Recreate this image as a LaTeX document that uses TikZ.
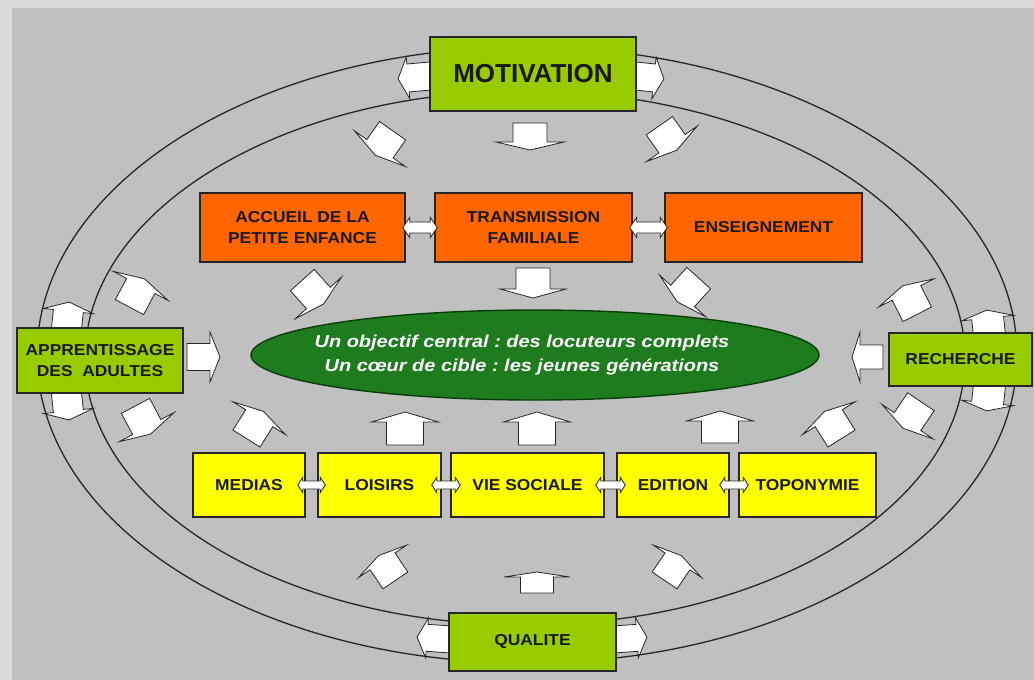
\documentclass[tikz,border=0pt]{standalone}
\usepackage{fontspec}
\setmainfont{Liberation Sans}
\newfontfamily\labfont[FakeStretch=1.1]{Liberation Sans}
\newfontfamily\ctrfont[FakeStretch=1.16]{Liberation Sans}
\usetikzlibrary{shapes.geometric,calc}
\definecolor{bgout}{HTML}{D9D9D9}
\definecolor{bgin}{HTML}{C0C0C0}
\definecolor{lime}{HTML}{99CC00}
\definecolor{orng}{HTML}{FF6600}
\definecolor{yel}{HTML}{FFFF00}
\definecolor{dgreen}{HTML}{1E7B1E}
\definecolor{dgreenline}{HTML}{0B3D0B}
% block arrow: x, y, angle, length, body half width, head half width, head length
\newcommand\blockarr[7]{\begin{scope}[shift={(#1,#2)},rotate=#3]
\draw[arr] ({-#4/2},{-#5}) -- ({#4/2-#7},{-#5}) -- ({#4/2-#7},{-#6}) -- ({#4/2},0) -- ({#4/2-#7},{#6}) -- ({#4/2-#7},{#5}) -- ({-#4/2},{#5}) -- cycle;
\end{scope}}
% double arrow between two named nodes: left node, right node, body half, head half, head length, overlap
\newcommand\dblarr[6]{%
\draw[arr] let \p1=($(#1.east)+(-#6,0)$), \p2=($(#2.west)+(#6,0)$) in
 (\x1,\y1) -- (\x1+#5pt,\y1+#4pt) -- (\x1+#5pt,\y1+#3pt) -- (\x2-#5pt,\y2+#3pt) -- (\x2-#5pt,\y2+#4pt) -- (\x2,\y2)
 -- (\x2-#5pt,\y2-#4pt) -- (\x2-#5pt,\y2-#3pt) -- (\x1+#5pt,\y1-#3pt) -- (\x1+#5pt,\y1-#4pt) -- cycle;}
\frenchspacing
\begin{document}
\begin{tikzpicture}[x=1pt,y=-1pt,
 box/.style={draw=black!85, line width=1.4pt, inner sep=0pt, align=center, text=black!90,
   font=\labfont\bfseries\fontsize{15.8}{21}\selectfont},
 gbox/.style={box, fill=lime},
 obox/.style={box, fill=orng},
 ybox/.style={box, fill=yel},
 arr/.style={draw=black!85, fill=white, line width=0.8pt, line join=miter},
 ring/.style={draw=black!85, line width=1.3pt}]
\fill[bgout] (0,0) rectangle (1034,680);
\fill[bgin] (12,8) rectangle (1034,680);
\useasboundingbox (0,0) rectangle (1034,680);

% ring arrows
\blockarr{419}{77}{185}{42}{14}{21}{10}
\blockarr{645}{77}{-6}{38}{14}{21}{10}
\blockarr{67.5}{319}{84}{34}{15}{25}{9}
\blockarr{67.5}{403}{-84}{34}{15}{25}{9}
\blockarr{988.5}{326}{96}{32}{16}{26}{8}
\blockarr{988.5}{394.5}{-96}{33}{16}{26}{8}
\blockarr{437}{638.5}{176}{40}{13.5}{20}{10}
\blockarr{627.5}{638.5}{4}{39}{13.5}{20}{10}

% ellipses
\draw[ring] (527,355) ellipse [x radius=490, y radius=308];
\draw[ring] (525,358) ellipse [x radius=440, y radius=267];

% straight inner arrows
\blockarr{530}{136.5}{-90}{27}{17}{34}{8}
\blockarr{533}{283}{-90}{30}{17}{33}{9}
\blockarr{203.5}{357}{0}{33}{13.5}{25}{10}
\blockarr{867.5}{357}{180}{31}{12}{25}{8}
\blockarr{537}{582.5}{90}{21}{16.5}{33}{5}
\blockarr{405}{428.5}{90}{33}{18.5}{33.5}{10}
\blockarr{537}{428.5}{90}{33}{18.5}{33.5}{10}
\blockarr{720}{427}{90}{32}{18.5}{33.5}{10}

% diagonal arrows
\blockarr{384}{143}{-125}{30}{16}{31}{8}
\blockarr{668}{138}{-55}{30}{16}{31}{8}
\blockarr{313}{292}{-48}{32}{16}{31}{8}
\blockarr{688}{290}{-132}{32}{16}{31}{8}
\blockarr{137}{293}{62}{32}{16}{31}{8}
\blockarr{143}{420}{-62}{32}{16}{31}{8}
\blockarr{910}{300}{117}{32}{16}{31}{8}
\blockarr{912}{415}{-124}{32}{16}{31}{8}
\blockarr{255}{425}{58}{32}{16}{31}{8}
\blockarr{833}{425}{122}{32}{16}{31}{8}
\blockarr{387}{568}{124}{30}{15}{29}{7}
\blockarr{673}{568}{56}{30}{15}{29}{7}

% green boxes
\node[gbox, minimum width=206, minimum height=74, font=\bfseries\fontsize{26}{30}\selectfont] (mot) at (533,74) {MOTIVATION};
\node[gbox, minimum width=166, minimum height=65] (app) at (100,360.5) {APPRENTISSAGE\\DES\ \ ADULTES};
\node[gbox, minimum width=143, minimum height=53] (rec) at (960.5,359.5) {RECHERCHE};
\node[gbox, minimum width=167, minimum height=58] (qual) at (532.5,642) {QUALITE};

% orange boxes
\node[obox, minimum width=205, minimum height=69] (acc) at (302.5,227.5) {ACCUEIL DE LA\\PETITE ENFANCE};
\node[obox, minimum width=197, minimum height=69] (trans) at (533.5,227.5) {TRANSMISSION\\FAMILIALE};
\node[obox, minimum width=197, minimum height=69] (ens) at (763.5,227.5) {ENSEIGNEMENT};

% yellow boxes
\node[ybox, minimum width=112, minimum height=64] (med) at (249,485) {MEDIAS};
\node[ybox, minimum width=123, minimum height=64] (loi) at (379.5,485) {LOISIRS};
\node[ybox, minimum width=153, minimum height=64] (vie) at (527.5,485) {VIE SOCIALE};
\node[ybox, minimum width=112, minimum height=64] (edi) at (673,485) {EDITION};
\node[ybox, minimum width=137, minimum height=64] (top) at (807.5,485) {TOPONYMIE};

% central ellipse
\node[ellipse, draw=dgreenline, fill=dgreen, line width=1.4pt, minimum width=568, minimum height=90, inner sep=0pt] (ctr) at (535,355) {};
\node[align=center, text=white, inner sep=0pt, font=\ctrfont\bfseries\itshape\fontsize{17.2}{24}\selectfont] (ctrtxt) at (522,355)
  {Un objectif central : des locuteurs complets\\Un cœur de cible : les jeunes générations};

% double arrows between boxes
\dblarr{acc}{trans}{5.5}{10}{7}{3}
\dblarr{trans}{ens}{5.5}{10}{7}{3}
\dblarr{med}{loi}{4}{7.5}{5}{8}
\dblarr{loi}{vie}{4}{7.5}{5}{10}
\dblarr{vie}{edi}{4}{7.5}{5}{9}
\dblarr{edi}{top}{4}{7.5}{5}{10}
\end{tikzpicture}
\end{document}
